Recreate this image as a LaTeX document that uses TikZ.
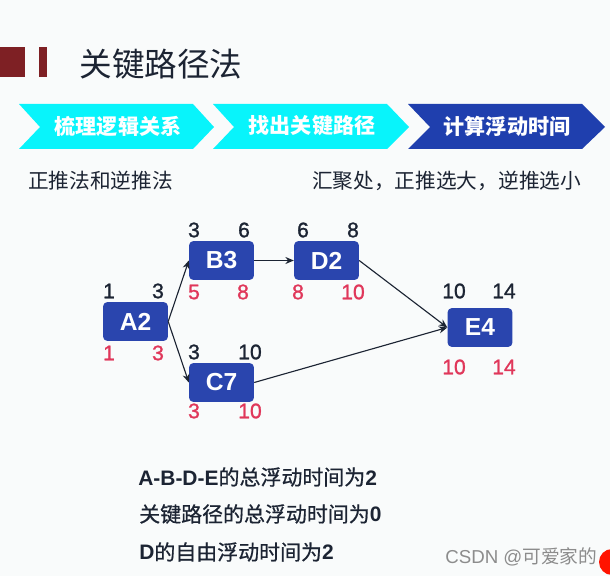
\documentclass[tikz,border=0pt]{standalone}
\usepackage{fontspec}
\setmainfont{Liberation Sans}
\newfontfamily\cjk{Noto Sans CJK SC}
\newfontfamily\cjkheavy[FakeBold=0.7]{Noto Sans CJK SC}
\newfontfamily\numfont[FakeBold=1.2]{Liberation Sans}
\usetikzlibrary{arrows.meta, positioning}
\definecolor{barred}{HTML}{7E2024}
\definecolor{chevcyan}{HTML}{08F4FB}
\definecolor{chevblue}{HTML}{1F3FAE}
\definecolor{taskblue}{HTML}{2A45AE}
\definecolor{inkdark}{HTML}{1C2433}
\definecolor{latered}{HTML}{E0375A}
\definecolor{pagebg}{HTML}{F9FBFB}
\newcommand{\widecomma}{\char"FF0C\relax}

\begin{document}
\begin{tikzpicture}[
      x=0.025cm, y=-0.025cm,
      task/.style={draw=none, fill=taskblue, rounded corners=3pt, minimum width=1.62cm, minimum height=0.97cm, inner sep=0pt, text=white, font=\fontsize{17.5}{17.5}\selectfont\bfseries},
      early/.style={text=inkdark, inner sep=0pt, font=\fontsize{15}{15}\selectfont\numfont},
      late/.style={text=latered, inner sep=0pt, font=\fontsize{15}{15}\selectfont\numfont},
      chevtext/.style={text=white, inner sep=0pt, font=\fontsize{15}{15}\selectfont\cjk\bfseries},
      plain/.style={text=inkdark, inner sep=0pt, anchor=west, font=\fontsize{14.7}{14.7}\selectfont\cjk},
      note/.style={text=inkdark, inner sep=0pt, anchor=west, font=\fontsize{14.9}{14.9}\selectfont},
      link/.style={draw=inkdark, line width=0.8pt, -{Stealth[length=6pt, width=5pt]}}
    ]
      % Page
      \fill[pagebg] (0,0) rectangle (610,576);
      \useasboundingbox (0,0) rectangle (610,576);

      % Title
      \fill[barred] (0,47) rectangle (25,77);
      \fill[barred] (39,47) rectangle (47,77);
      \node[text=inkdark, inner sep=0pt, font=\fontsize{23.2}{23.2}\selectfont\cjk] (title) at (161,64) {关键路径法};

      % Chevrons
      \fill[chevcyan] (19,104) -- (193,104) -- (214,127) -- (193,149) -- (19,149) -- (40,127) -- cycle;
      \fill[chevcyan] (213,104) -- (387,104) -- (409,127) -- (387,149) -- (213,149) -- (234,127) -- cycle;
      \fill[chevblue] (408,104) -- (582,104) -- (605,127) -- (582,149) -- (408,149) -- (430,127) -- cycle;
      \node[chevtext] (sort) at (118,126) {梳理逻辑关系};
      \node[chevtext] (find) at (312,126) {找出关键路径};
      \node[chevtext] (calc) at (507,126) {计算浮动时间};

      % Notes under chevrons
      \node[plain] (passes) at (28,181) {正推法和逆推法};
      \node[plain] (merge) at (312,181) {汇聚处\widecomma 正推选大\widecomma 逆推选小};

      % Tasks
      \node[task] (A) at (135.5,321.5) {A2};
      \node[task] (B) at (221.5,260.5) {B3};
      \node[task] (D) at (326.5,260.5) {D2};
      \node[task] (C) at (221.5,382.5) {C7};
      \node[task] (E) at (480,327.5) {E4};

      % Early times
      \node[early] (Aes) at (109,291) {1};
      \node[early] (Aef) at (158,291) {3};
      \node[early] (Bes) at (194,230) {3};
      \node[early] (Bef) at (244,230) {6};
      \node[early] (Des) at (303,230) {6};
      \node[early] (Def) at (353,230) {8};
      \node[early] (Ces) at (194,352) {3};
      \node[early] (Cef) at (250,352) {10};
      \node[early] (Ees) at (454,291) {10};
      \node[early] (Eef) at (504,291) {14};

      % Late times
      \node[late] (Als) at (109,353) {1};
      \node[late] (Alf) at (158,353) {3};
      \node[late] (Bls) at (194,292) {5};
      \node[late] (Blf) at (243,292) {8};
      \node[late] (Dls) at (298,292) {8};
      \node[late] (Dlf) at (353,292) {10};
      \node[late] (Cls) at (194,411) {3};
      \node[late] (Clf) at (250,411) {10};
      \node[late] (Els) at (454,367) {10};
      \node[late] (Elf) at (504,367) {14};

      % Links
      \draw[link] (A.east) -- (B.west);
      \draw[link] (A.east) -- (C.west);
      \draw[link] (B) -- (D);
      \draw[link] (D.east) -- (E.west);
      \draw[link] (C.east) -- (E.west);

      % Results
      \node[note] (total) at (138,477) {\textbf{A-B-D-E}{\cjkheavy 的总浮动时间为}\textbf{2}};
      \node[note] (critical) at (139,514) {{\cjkheavy 关键路径的总浮动时间为}\textbf{0}};
      \node[note] (free) at (139,552) {\textbf{D}{\cjkheavy 的自由浮动时间为}\textbf{2}};

      % Watermark
      \node[text=black!45, inner sep=0pt, anchor=west, font=\fontsize{13.3}{13.3}\selectfont] (mark) at (445,557) {CSDN @{\cjk 可爱家的}};
      \begin{scope}
        \clip (0,0) rectangle (610,576);
        \fill[red!85!orange] (612,562) circle (13);
      \end{scope}
    \end{tikzpicture}
\end{document}
